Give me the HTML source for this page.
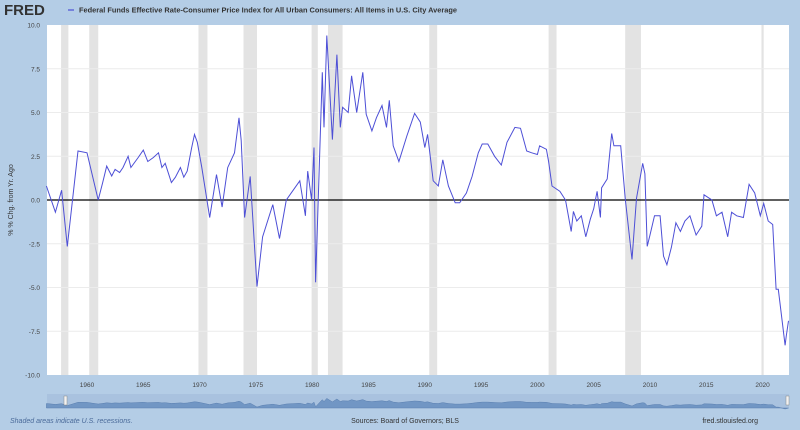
<!DOCTYPE html>
<html><head><meta charset="utf-8">
<style>
html,body{margin:0;padding:0;}
body{width:800px;height:430px;background:#b4cde6;font-family:"Liberation Sans",sans-serif;overflow:hidden;position:relative;}
svg{position:absolute;left:0;top:0;}
</style></head>
<body>
<svg id="chart" width="800" height="430">
</svg>
<script>
const years=[1956.4,1957.2,1957.75,1958.25,1959.2,1960.0,1961.0,1961.4,1961.75,1962.2,1962.5,1962.9,1963.2,1963.65,1963.9,1964.55,1965.0,1965.4,1965.9,1966.35,1966.65,1966.95,1967.5,1967.85,1968.3,1968.6,1968.9,1969.3,1969.55,1969.8,1970.2,1970.9,1971.5,1972.0,1972.5,1973.1,1973.5,1973.7,1974.0,1974.5,1975.1,1975.6,1976.5,1977.1,1977.7,1978.9,1979.4,1979.6,1979.95,1980.16,1980.3,1980.9,1981.05,1981.3,1981.8,1982.2,1982.5,1982.7,1983.2,1983.5,1983.95,1984.5,1984.8,1985.3,1985.7,1986.2,1986.6,1986.85,1987.2,1987.7,1988.4,1989.1,1989.6,1990.0,1990.25,1990.75,1991.2,1991.6,1992.1,1992.7,1993.1,1993.7,1994.2,1994.75,1995.1,1995.6,1996.2,1996.8,1997.3,1998.0,1998.5,1999.05,1999.5,2000.0,2000.2,2000.8,2001.0,2001.3,2002.0,2002.5,2003.0,2003.2,2003.5,2003.9,2004.3,2004.7,2005.0,2005.3,2005.6,2005.7,2006.2,2006.6,2006.8,2007.4,2007.8,2008.4,2008.8,2009.35,2009.55,2009.75,2010.0,2010.4,2010.9,2011.2,2011.5,2011.9,2012.3,2012.7,2013.1,2013.55,2014.1,2014.6,2014.8,2015.5,2015.9,2016.4,2016.9,2017.25,2017.7,2018.3,2018.8,2019.3,2019.8,2020.1,2020.5,2020.9,2021.2,2021.4,2022.0,2022.1,2022.3];
const values=[0.8,-0.7,0.56,-2.65,2.8,2.7,0.0,1.0,1.94,1.37,1.75,1.57,1.86,2.5,1.86,2.43,2.85,2.2,2.43,2.7,1.86,2.1,1.0,1.3,1.86,1.3,1.65,3.0,3.75,3.3,1.86,-1.0,1.45,-0.4,1.85,2.7,4.7,3.4,-1.0,1.35,-4.95,-2.1,-0.26,-2.2,0.0,1.1,-0.9,1.65,0.0,3.0,-4.7,7.3,4.15,9.4,3.45,8.3,4.15,5.3,5.0,7.1,5.0,7.3,4.9,3.95,4.7,5.4,4.15,5.7,3.1,2.2,3.65,4.95,4.45,3.0,3.75,1.1,0.8,2.3,0.8,-0.16,-0.16,0.4,1.35,2.7,3.2,3.2,2.5,2.0,3.3,4.15,4.1,2.8,2.7,2.6,3.1,2.9,2.2,0.8,0.5,0.0,-1.8,-0.65,-1.2,-0.9,-2.1,-1.1,-0.5,0.5,-1.0,0.7,1.2,3.8,3.1,3.1,0.1,-3.4,0.1,2.1,1.5,-2.65,-2.0,-0.9,-0.9,-3.2,-3.7,-2.7,-1.3,-1.8,-1.2,-0.9,-2.0,-1.5,0.3,0.0,-0.9,-0.7,-2.1,-0.7,-0.9,-1.0,0.9,0.4,-0.9,-0.2,-1.2,-1.4,-5.1,-5.1,-8.3,-7.8,-6.9];
const recStart=[1957.7,1960.2,1969.9,1973.9,1979.95,1981.4,1990.4,2001.0,2007.8,2019.9];
const recEnd=[1958.35,1961.0,1970.7,1975.1,1980.5,1982.7,1991.1,2001.7,2009.2,2020.1];
const yTicks=[10,7.5,5,2.5,0,-2.5,-5,-7.5,-10];
const yTickLabels=["10.0","7.5","5.0","2.5","0.0","-2.5","-5.0","-7.5","-10.0"];
const xTicks=[1960,1965,1970,1975,1980,1985,1990,1995,2000,2005,2010,2015,2020];
const xTickLabels=["1960","1965","1970","1975","1980","1985","1990","1995","2000","2005","2010","2015","2020"];

const L=47,R=789,T=25,B=375;
const xMin=1956.45,xMax=1956.45+(R-L)/11.26;
const X=y=>L+(y-xMin)/(xMax-xMin)*(R-L);
const Y=v=>T+(10-v)/20*(B-T);
const svg=document.getElementById('chart');
const NS='http://www.w3.org/2000/svg';
function mk(tag,attrs,parent){const e=document.createElementNS(NS,tag);for(const k in attrs)e.setAttribute(k,attrs[k]);(parent||svg).appendChild(e);return e;}

let bg=mk('rect',{x:L,y:T,width:R-L,height:B-T,fill:'#ffffff'});


recStart.forEach((s,i)=>{
  const r=mk('rect',{x:X(s),y:T,width:X(recEnd[i])-X(s),height:B-T,fill:'#e3e3e3'});
  
  
});
yTicks.forEach((v,i)=>{
  if(v!==0&&Math.abs(v)!==10){const g=mk('line',{x1:L,x2:R,y1:Y(v),y2:Y(v),stroke:'#ececec','stroke-width':1});
  
  }
  const t=mk('text',{x:40,y:Y(v)+2.5,'text-anchor':'end','font-size':6.5,fill:'#444'});
  t.textContent=yTickLabels[i];
  
  
});
xTicks.forEach((v,i)=>{
  const t=mk('text',{x:X(v),y:387,'text-anchor':'middle','font-size':6.5,fill:'#444'});
  t.textContent=xTickLabels[i];
  
  
});
let z=mk('line',{x1:L,x2:R,y1:Y(0),y2:Y(0),stroke:'#000','stroke-width':1.2});


let d=years.map((y,i)=>(i?'L':'M')+X(y).toFixed(1)+','+Y(values[i]).toFixed(1)).join('');
let p=mk('path',{d:d,fill:'none',stroke:'#4d4fd6','stroke-width':1});


let nb=mk('rect',{x:L,y:394,width:R-L,height:14,fill:'#a9c2df'});


const nY=v=>404-v*0.6;
let nd='M'+X(years[0]).toFixed(1)+',408'+years.map((y,i)=>'L'+X(y).toFixed(1)+','+nY(values[i]).toFixed(1)).join('')+'L'+X(years[years.length-1]).toFixed(1)+',408Z';
let na=mk('path',{d:nd,fill:'#7196c4',stroke:'#5a7fb0','stroke-width':0.5});


let h1=mk('rect',{x:64,y:396,width:3,height:9,fill:'#f2f2f2',stroke:'#888','stroke-width':0.5});


let h2=mk('rect',{x:786,y:396,width:3,height:9,fill:'#f2f2f2',stroke:'#888','stroke-width':0.5});


</script>
<svg width="800" height="430" style="pointer-events:none">
  <text x="4" y="15" font-size="15" font-weight="bold" fill="#333" font-family="Liberation Sans, sans-serif">FRED</text>
  <line x1="68" y1="10" x2="74" y2="10" stroke="#4d4fd6" stroke-width="1.2"/>
  <text x="79" y="12.5" font-size="7.4" font-weight="bold" fill="#333">Federal Funds Effective Rate-Consumer Price Index for All Urban Consumers: All Items in U.S. City Average</text>
  <text transform="translate(13,200) rotate(-90)" text-anchor="middle" font-size="7" fill="#333">% % Chg. from Yr. Ago</text>
  <text x="10" y="423" font-size="7" font-style="italic" fill="#4a6a99">Shaded areas indicate U.S. recessions.</text>
  <text x="405" y="423" text-anchor="middle" font-size="7" fill="#333">Sources: Board of Governors; BLS</text>
  <text x="758" y="423" text-anchor="end" font-size="7" fill="#333">fred.stlouisfed.org</text>
</svg>
</body></html>
